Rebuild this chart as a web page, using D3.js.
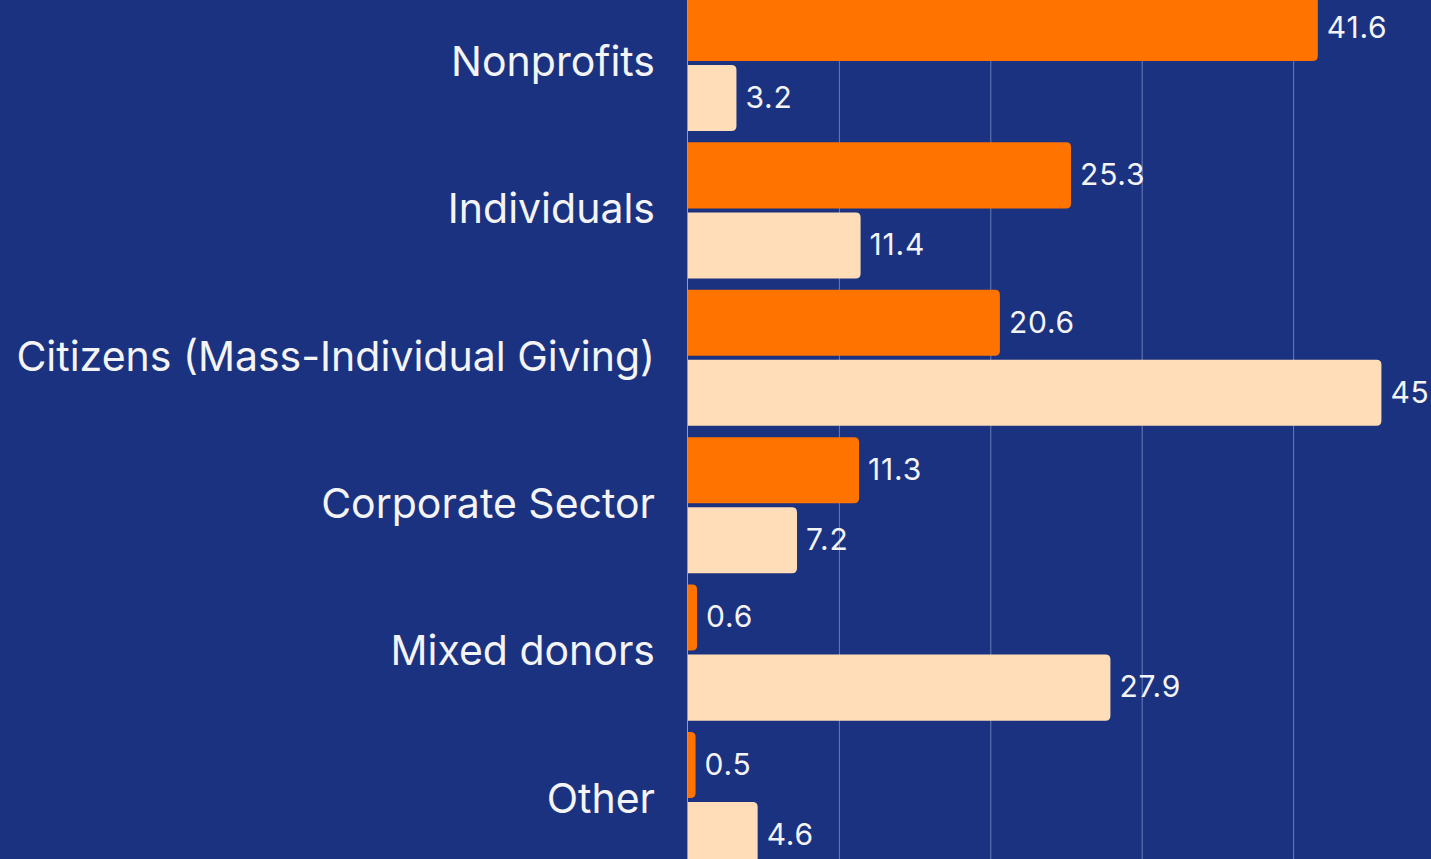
<!DOCTYPE html>
<html>
<head>
<meta charset="utf-8">
<script src="https://cdn.jsdelivr.net/npm/d3@7"></script>
<style>
  html, body { margin: 0; padding: 0; background: #1B3281; overflow: hidden; }
  svg { display: block; }
</style>
</head>
<body>
<svg id="chart" width="1431" height="859"></svg>
<script>
const categories = ["Nonprofits", "Individuals", "Citizens (Mass-Individual Giving)", "Corporate Sector", "Mixed donors", "Other"];
const seriesKeys = ["series1", "series2"];
const series1 = [41.6, 25.3, 20.6, 11.3, 0.6, 0.5];
const series2 = [3.2, 11.4, 45.8, 7.2, 27.9, 4.6];
const xTicks = [0, 10, 20, 30, 40];
const colors = ["#FF7300", "#FFDDB8"];

const W = 1431, H = 859;
const svg = d3.select("#chart");
svg.append("rect").attr("width", W).attr("height", H).attr("fill", "#1B3281");

const x0 = 688;
const x = d3.scaleLinear().domain([0, 10]).range([x0, x0 + 151.4]);

const y0 = d3.scaleBand().domain(categories).range([-10.7, 873.7]).paddingInner(0.077).paddingOuter(0.0385);
const y1 = d3.scaleBand().domain(seriesKeys).range([0, y0.bandwidth()]).paddingInner(0.057);

// gridlines
svg.append("g").selectAll("line").data(xTicks.filter(t => t > 0)).join("line")
  .attr("x1", d => x(d)).attr("x2", d => x(d))
  .attr("y1", 0).attr("y2", H)
  .attr("stroke", "#6A7DB8").attr("stroke-width", 1);

// axis line
svg.append("line").attr("x1", x(0) - 0.5).attr("x2", x(0) - 0.5).attr("y1", 0).attr("y2", H)
  .attr("stroke", "#8A9BCB").attr("stroke-width", 1);

function barPath(xl, xr, yt, h, r) {
  const w = xr - xl;
  r = Math.min(r, w, h / 2);
  return `M${xl},${yt}H${xr - r}Q${xr},${yt} ${xr},${yt + r}V${yt + h - r}Q${xr},${yt + h} ${xr - r},${yt + h}H${xl}Z`;
}

const rows = categories.map((c, i) => ({ cat: c, vals: [series1[i], series2[i]] }));

const g = svg.append("g").selectAll("g").data(rows).join("g")
  .attr("transform", d => `translate(0,${y0(d.cat)})`);

g.selectAll("path").data(d => d.vals.map((v, j) => ({ v, key: seriesKeys[j], j }))).join("path")
  .attr("d", d => barPath(x(0), x(d.v), y1(d.key), y1.bandwidth(), 5))
  .attr("fill", d => colors[d.j]);

g.selectAll("text.val").data(d => d.vals.map((v, j) => ({ v, key: seriesKeys[j], j }))).join("text")
  .attr("class", "val")
  .attr("x", d => x(d.v) + 9)
  .attr("y", d => y1(d.key) + y1.bandwidth() / 2 - 1)
  .attr("dy", "0.36em")
  .attr("fill", "#F4F4F6")
  .attr("font-family", "Inter, 'Open Sans', sans-serif")
  .attr("font-size", 30)
  .attr("letter-spacing", 0.8)
  .text(d => d3.format(".1~f")(d.v));

// category labels
svg.append("g").selectAll("text").data(categories).join("text")
  .attr("x", 655)
  .attr("y", d => y0(d) + y0.bandwidth() / 2 - 2)
  .attr("dy", "0.36em")
  .attr("text-anchor", "end")
  .attr("fill", "#F4F4F6")
  .attr("font-family", "Inter, 'Open Sans', sans-serif")
  .attr("font-size", 41)
  .text(d => d);
</script>
</body>
</html>
